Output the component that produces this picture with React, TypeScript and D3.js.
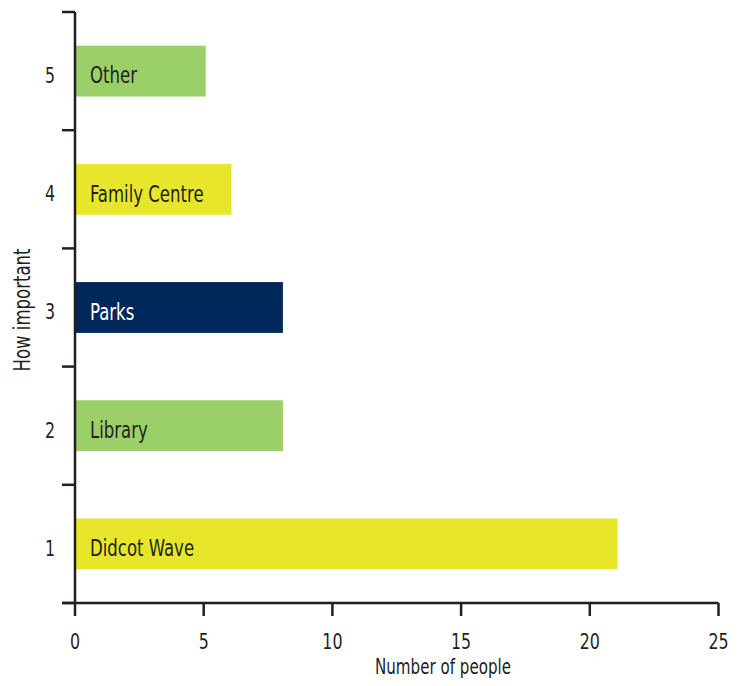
import { useRef, useEffect } from "react";
import * as d3 from "d3";

// ranks from top to bottom
const ranks = ["5", "4", "3", "2", "1"];
const places = ["Other", "Family Centre", "Parks", "Library", "Didcot Wave"];
const counts = [5, 6, 8, 8, 21];
const barColors = ["#9bcf68", "#e8e62a", "#00285a", "#9bcf68", "#e8e62a"];
const labelColors = ["#231f20", "#231f20", "#ffffff", "#231f20", "#231f20"];
const xTicks = [0, 5, 10, 15, 20, 25];

const FONT = "'DejaVu Sans Condensed', 'DejaVu Sans', sans-serif";
const SQUEEZE = 0.8; // narrow the glyphs to look like a condensed face

export default function App() {
  const svgRef = useRef<SVGSVGElement>(null);

  useEffect(() => {
    const svg = d3.select(svgRef.current);
    svg.selectAll("*").remove();

    const left = 75;
    const right = 718.5;
    const top = 12;
    const bottom = 603;

    const x = d3.scaleLinear().domain([0, 25]).range([left, right]);
    const y = d3.scaleBand().domain(ranks).range([top, bottom]).padding(0);
    const barH = y.bandwidth() * 0.43;
    const mid = (r: string) => y(r)! + y.bandwidth() / 2;

    const ink = "#231f20";

    // bars
    const g = svg.append("g");
    g.selectAll("rect.bar")
      .data(counts)
      .join("rect")
      .attr("class", "bar")
      .attr("x", x(0) + 1)
      .attr("y", (_, i) => mid(ranks[i]) - barH / 2)
      .attr("width", (d) => x(d) - x(0) + 1)
      .attr("height", barH)
      .attr("fill", (_, i) => barColors[i]);

    g.selectAll("text.lbl")
      .data(places)
      .join("text")
      .attr("class", "lbl")
      .attr("transform", (_, i) => `translate(${x(0) + 15},${mid(ranks[i]) + 4}) scale(${SQUEEZE},1)`)
      .attr("dy", "0.36em")
      .attr("fill", (_, i) => labelColors[i])
      .attr("font-family", FONT)
      .attr("font-size", 23)
      .text((d) => d);

    // y axis: line with ticks at band edges
    svg.append("line")
      .attr("x1", left).attr("x2", left)
      .attr("y1", top).attr("y2", bottom)
      .attr("stroke", ink).attr("stroke-width", 2.5);
    const edges = ranks.map((r) => y(r)!).concat([bottom]);
    svg.selectAll("line.ytick")
      .data(edges)
      .join("line")
      .attr("class", "ytick")
      .attr("x1", left - 13).attr("x2", left)
      .attr("y1", (d) => d).attr("y2", (d) => d)
      .attr("stroke", ink).attr("stroke-width", 2.5);
    svg.selectAll("text.ylab")
      .data(ranks)
      .join("text")
      .attr("class", "ylab")
      .attr("transform", (d) => `translate(50,${mid(d) + 4}) scale(${SQUEEZE},1)`)
      .attr("dy", "0.36em")
      .attr("text-anchor", "middle")
      .attr("fill", ink)
      .attr("font-family", FONT)
      .attr("font-size", 22)
      .text((d) => d);

    // x axis
    svg.append("line")
      .attr("x1", left - 13).attr("x2", right)
      .attr("y1", bottom).attr("y2", bottom)
      .attr("stroke", ink).attr("stroke-width", 2.5);
    svg.selectAll("line.xtick")
      .data(xTicks)
      .join("line")
      .attr("class", "xtick")
      .attr("x1", (d) => x(d)).attr("x2", (d) => x(d))
      .attr("y1", bottom).attr("y2", bottom + 13)
      .attr("stroke", ink).attr("stroke-width", 2.5);
    svg.selectAll("text.xlab")
      .data(xTicks)
      .join("text")
      .attr("class", "xlab")
      .attr("transform", (d) => `translate(${x(d)},641) scale(${SQUEEZE},1)`)
      .attr("dy", "0.36em")
      .attr("text-anchor", "middle")
      .attr("fill", ink)
      .attr("font-family", FONT)
      .attr("font-size", 22)
      .text((d) => d);

    // axis titles
    svg.append("text")
      .attr("transform", `translate(443,666) scale(${SQUEEZE},1)`)
      .attr("dy", "0.36em")
      .attr("text-anchor", "middle")
      .attr("fill", ink)
      .attr("font-family", FONT)
      .attr("font-size", 21)
      .text("Number of people");
    svg.append("text")
      .attr("transform", `translate(22,310) rotate(-90) scale(${SQUEEZE},1)`)
      .attr("dy", "0.36em")
      .attr("text-anchor", "middle")
      .attr("fill", ink)
      .attr("font-family", FONT)
      .attr("font-size", 23)
      .text("How important");
  }, []);

  return (
    <svg
      ref={svgRef}
      width={749}
      height={686}
      style={{ position: "absolute", left: 0, top: 0, background: "#fff" }}
    />
  );
}
